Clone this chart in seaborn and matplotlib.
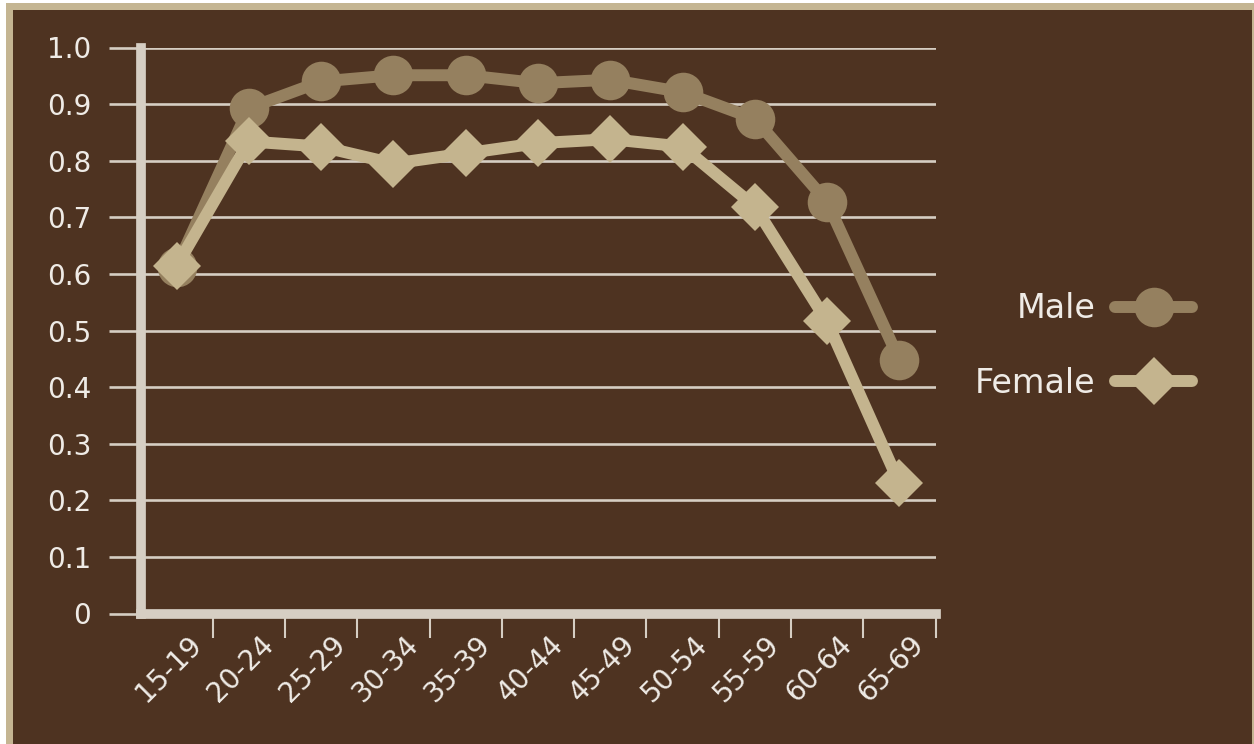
import matplotlib
matplotlib.use("Agg")
import matplotlib.pyplot as plt
import matplotlib.transforms as mtransforms
from matplotlib.patches import Rectangle
import numpy as np
import pandas as pd
import seaborn as sns

# Participation rate by age group
age_groups = ["15-19", "20-24", "25-29", "30-34", "35-39", "40-44",
              "45-49", "50-54", "55-59", "60-64", "65-69"]
male_rate = [0.613, 0.893, 0.940, 0.951, 0.951, 0.937,
             0.943, 0.921, 0.874, 0.727, 0.448]
female_rate = [0.614, 0.834, 0.825, 0.795, 0.813, 0.831,
               0.838, 0.825, 0.719, 0.516, 0.230]
series_names = ["Male", "Female"]
y_ticks = [0.0, 0.1, 0.2, 0.3, 0.4, 0.5, 0.6, 0.7, 0.8, 0.9, 1.0]
y_tick_labels = ["0", "0.1", "0.2", "0.3", "0.4", "0.5",
                 "0.6", "0.7", "0.8", "0.9", "1.0"]

BROWN = "#4e3321"
TAN = "#c4b592"
MALE_C = "#95805f"
FEMALE_C = "#c4b48e"
GRID_C = "#d6cec3"
TEXT_C = "#efebe6"

sns.set_style("white")
plt.rcParams["font.family"] = ["DejaVu Sans"]

W, H = 1254, 744
fig = plt.figure(figsize=(W / 100, H / 100), dpi=100, facecolor="white")

# framed background
fig.add_artist(Rectangle((6 / W, 0), (W - 6) / W, (H - 3) / H,
                         transform=fig.transFigure, facecolor=TAN,
                         edgecolor="none", zorder=-10))
fig.add_artist(Rectangle((13 / W, 0), (1252 - 13) / W, (H - 10) / H,
                         transform=fig.transFigure, facecolor=BROWN,
                         edgecolor="none", zorder=-9))

ax = fig.add_axes([140.5 / W, 1 - 613.5 / H, 795 / W, 566 / H])
ax.set_facecolor("none")

df = pd.DataFrame({
    "Age group": age_groups * 2,
    "Rate": male_rate + female_rate,
    "Sex": [series_names[0]] * len(age_groups) + [series_names[1]] * len(age_groups),
})

sns.lineplot(data=df, x="Age group", y="Rate", hue="Sex", style="Sex",
             hue_order=series_names, style_order=series_names,
             palette=[MALE_C, FEMALE_C],
             markers={"Male": "o", "Female": "D"}, dashes=False,
             sort=False, errorbar=None, legend=False, ax=ax,
             lw=8.6, markersize=26, markeredgewidth=0,
             solid_capstyle="round", solid_joinstyle="round", zorder=3)

lines = ax.get_lines()[:2]
lines[0].set_markersize(28.5)
lines[1].set_markersize(24.5)
for ln in lines:
    ln.set_clip_on(False)

ax.set_xlim(-0.5, len(age_groups) - 0.5)
ax.set_ylim(0, 1.0)
ax.set_xlabel("")
ax.set_ylabel("")

# x axis: labels at category centers, tick marks between categories
ax.set_xticks(range(len(age_groups)))
ax.set_xticklabels(age_groups, rotation=45, ha="center", va="top")
ax.set_xticks(np.arange(0.5, len(age_groups), 1.0), minor=True)
ax.tick_params(axis="x", which="both", bottom=True)
ax.tick_params(axis="x", which="major", length=0, pad=12,
               labelsize=20, labelcolor=TEXT_C)
ax.tick_params(axis="x", which="minor", length=17.6, width=1.5,
               color=GRID_C, direction="out")
shift = mtransforms.ScaledTranslation(-8 / 100, 0, fig.dpi_scale_trans)
for lab in ax.get_xticklabels():
    lab.set_transform(lab.get_transform() + shift)

# y axis
ax.set_yticks(y_ticks)
ax.set_yticklabels(y_tick_labels)
ax.tick_params(axis="y", left=True, length=23.4, width=1.9, color=GRID_C,
               pad=12, labelsize=20, labelcolor=TEXT_C)
ax.grid(axis="y", color=GRID_C, lw=1.9)
ax.grid(axis="x", visible=False)
ax.set_axisbelow(True)

for side in ["top", "right"]:
    ax.spines[side].set_visible(False)
for side in ["left", "bottom"]:
    ax.spines[side].set_color(GRID_C)
    ax.spines[side].set_linewidth(7)
ax.spines["bottom"].set_capstyle("projecting")

fig.legend(lines, series_names, loc="center right",
           bbox_to_anchor=(1222 / W, 1 - 346 / H),
           bbox_transform=fig.transFigure, frameon=False,
           markerfirst=False, fontsize=24, labelcolor=TEXT_C,
           handlelength=2.3, handletextpad=0.6, labelspacing=1.25,
           numpoints=1)

fig.savefig("out.png", dpi=100, facecolor=fig.get_facecolor())
